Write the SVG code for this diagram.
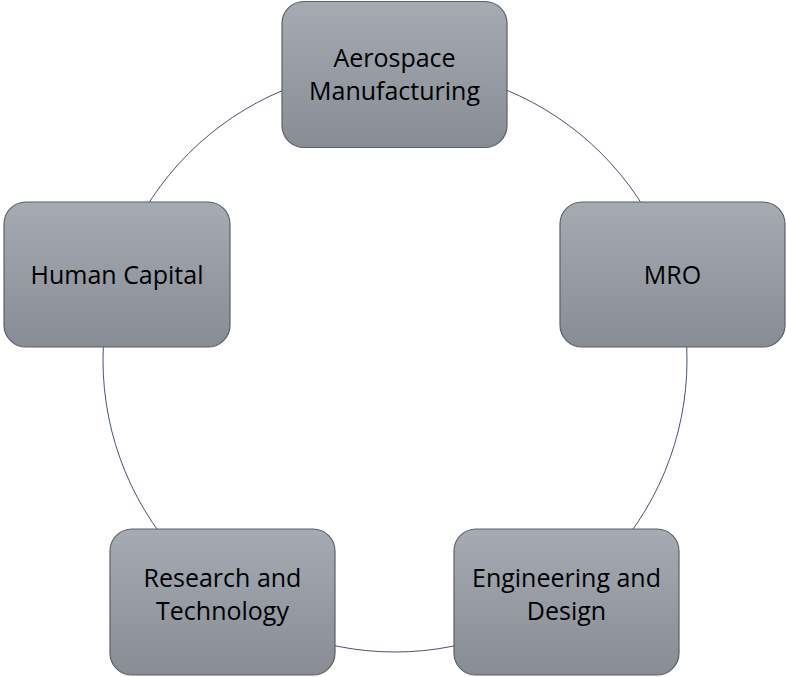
<svg xmlns="http://www.w3.org/2000/svg" width="786" height="677" viewBox="0 0 786 677">
<defs>
<linearGradient id="g" x1="0" y1="0" x2="0" y2="1">
<stop offset="0" stop-color="#a5aab3"/>
<stop offset="1" stop-color="#878c95"/>
</linearGradient>
<style>
.box{fill:url(#g);stroke:#5c6068;stroke-width:1.2}
.t{font-family:"Open Sans","Liberation Sans",sans-serif;font-size:25px;fill:#000;text-anchor:middle}
.c{fill:none;stroke:#45566e;stroke-width:1}
</style>
</defs>
<rect width="786" height="677" fill="#fff"/>
<g id="connectors">
<circle class="c" cx="395" cy="360" r="292"/>
</g>
<g id="aerospace">
<rect class="box" x="282" y="1.5" width="225" height="146" rx="22"/>
<text class="t" x="394.5" y="67">Aerospace</text>
<text class="t" x="394.5" y="100">Manufacturing</text>
</g>
<g id="mro">
<rect class="box" x="560" y="202" width="225" height="145" rx="22"/>
<text class="t" x="672.5" y="284">MRO</text>
</g>
<g id="engineering">
<rect class="box" x="454" y="529" width="225" height="146" rx="22"/>
<text class="t" x="566.5" y="587">Engineering and</text>
<text class="t" x="566.5" y="620">Design</text>
</g>
<g id="research">
<rect class="box" x="110" y="529" width="225" height="146" rx="22"/>
<text class="t" x="222.5" y="587">Research and</text>
<text class="t" x="222.5" y="620">Technology</text>
</g>
<g id="human">
<rect class="box" x="4" y="202" width="226" height="145" rx="22"/>
<text class="t" x="117" y="284">Human Capital</text>
</g>
</svg>
